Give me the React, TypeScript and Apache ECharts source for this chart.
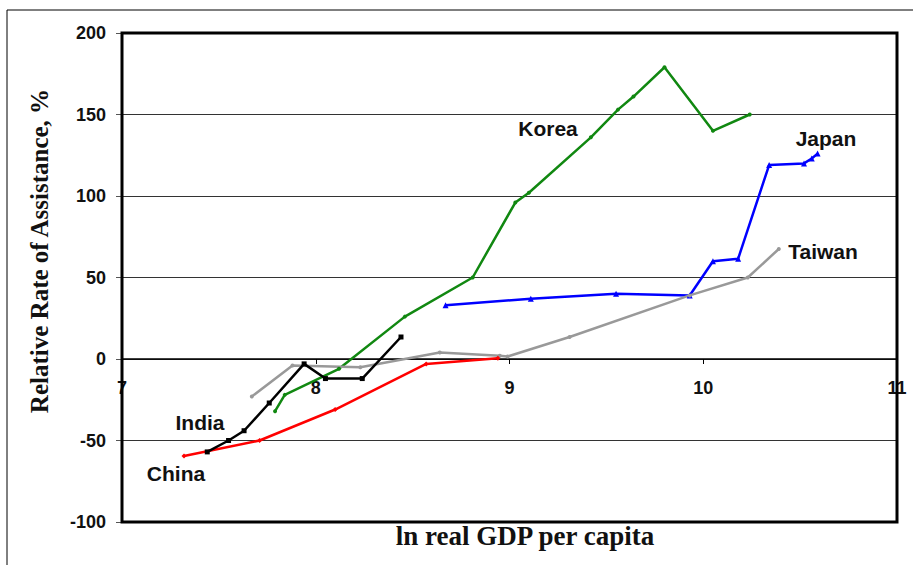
import React, { useEffect, useRef } from "react";
import * as echarts from "echarts";

const xTicks = [7, 8, 9, 10, 11];
const yTicks = [-100, -50, 0, 50, 100, 150, 200];

const koreaX = [7.79, 7.84, 8.12, 8.46, 8.81, 9.03, 9.1, 9.42, 9.56, 9.64, 9.8, 10.05, 10.24];
const koreaY = [-32, -22, -6, 26, 50, 96, 102, 136, 153, 161, 179, 140, 150];

const japanX = [8.67, 9.11, 9.55, 9.93, 10.05, 10.18, 10.34, 10.52, 10.56, 10.59];
const japanY = [33, 37, 40, 39, 60, 61.5, 119, 120, 123, 126];

const taiwanX = [7.67, 7.88, 8.23, 8.64, 8.95, 8.99, 9.31, 9.93, 10.23, 10.39];
const taiwanY = [-23, -4, -5, 4, 2, 1.5, 13.5, 39, 50, 67.5];

const chinaX = [7.32, 7.71, 8.1, 8.57, 8.94];
const chinaY = [-59.5, -50, -31, -3, 0.5];

const indiaX = [7.44, 7.55, 7.63, 7.76, 7.94, 8.05, 8.24, 8.44];
const indiaY = [-57, -50, -44, -27, -3, -12, -12, 13.5];

const seriesNames = ["Korea", "Japan", "Taiwan", "China", "India"];

const pairs = (xs: number[], ys: number[]) => xs.map((x, i) => [x, ys[i]]);

export default function App() {
  const ref = useRef<HTMLDivElement>(null);
  useEffect(() => {
    if (!ref.current) return;
    const chart = echarts.init(ref.current, null, { renderer: "svg" });
    const labelFont = {
      fontFamily: "Liberation Sans, Arial, sans-serif",
      fontWeight: "bold",
      fontSize: 21,
      fill: "#111",
    };
    const gridTop = 33;
    const gridBottom = 43;
    const plotH = 565 - gridTop - gridBottom;
    const yMin = yTicks[0];
    const yMax = yTicks[yTicks.length - 1];
    // move the x axis up so it sits on y = 0
    const zeroOffset = -(plotH * (0 - yMin)) / (yMax - yMin);
    const mk = (
      name: string,
      xs: number[],
      ys: number[],
      color: string,
      symbol: string,
      size: number
    ) => ({
      name,
      type: "line",
      data: pairs(xs, ys),
      symbol,
      symbolSize: size,
      showSymbol: true,
      lineStyle: { color, width: 2.5 },
      itemStyle: { color },
      z: 3,
    });
    chart.setOption({
      animation: false,
      backgroundColor: "#fff",
      grid: {
        left: 122,
        right: 16,
        top: gridTop,
        bottom: gridBottom,
        show: true,
        borderColor: "#000",
        borderWidth: 3,
        z: 4,
      },
      xAxis: {
        type: "value",
        min: xTicks[0],
        max: xTicks[xTicks.length - 1],
        interval: 1,
        offset: zeroOffset,
        axisLine: { onZero: false, lineStyle: { color: "#000", width: 1.5 } },
        axisTick: { show: true, length: 5, lineStyle: { color: "#000" } },
        axisLabel: {
          margin: 20,
          fontFamily: "Liberation Sans, Arial, sans-serif",
          fontWeight: "bold",
          fontSize: 18,
          color: "#111",
        },
        splitLine: { show: false },
      },
      yAxis: {
        type: "value",
        min: yMin,
        max: yMax,
        interval: 50,
        axisLine: { show: false },
        axisTick: { show: true, length: 6, lineStyle: { color: "#555" } },
        axisLabel: {
          margin: 16,
          fontFamily: "Liberation Sans, Arial, sans-serif",
          fontWeight: "bold",
          fontSize: 18,
          color: "#111",
        },
        splitLine: { show: true, lineStyle: { color: "#333", width: 1 } },
      },
      series: [
        mk(seriesNames[0], koreaX, koreaY, "#118811", "circle", 4),
        mk(seriesNames[1], japanX, japanY, "#0000ff", "triangle", 6),
        mk(seriesNames[2], taiwanX, taiwanY, "#999999", "circle", 4),
        mk(seriesNames[3], chinaX, chinaY, "#ff0000", "diamond", 5),
        mk(seriesNames[4], indiaX, indiaY, "#000000", "rect", 5),
      ],
      graphic: [
        {
          type: "rect",
          shape: { x: 7, y: 10, width: 1000, height: 1000 },
          style: { fill: "none", stroke: "#000", lineWidth: 1 },
          silent: true,
        },
        { type: "text", x: 548, y: 128, style: { ...labelFont, text: seriesNames[0], textAlign: "center", textVerticalAlign: "middle" } },
        { type: "text", x: 826, y: 138, style: { ...labelFont, text: seriesNames[1], textAlign: "center", textVerticalAlign: "middle" } },
        { type: "text", x: 823, y: 251, style: { ...labelFont, text: seriesNames[2], textAlign: "center", textVerticalAlign: "middle" } },
        { type: "text", x: 200, y: 422, style: { ...labelFont, text: seriesNames[4], textAlign: "center", textVerticalAlign: "middle" } },
        { type: "text", x: 176, y: 473, style: { ...labelFont, text: seriesNames[3], textAlign: "center", textVerticalAlign: "middle" } },
        {
          type: "text",
          x: 39,
          y: 251,
          rotation: Math.PI / 2,
          style: {
            text: "Relative Rate of Assistance, %",
            fontFamily: "Liberation Serif, Times New Roman, serif",
            fontWeight: "bold",
            fontSize: 25,
            fill: "#111",
            textAlign: "center",
            textVerticalAlign: "middle",
          },
        },
        {
          type: "text",
          x: 525,
          y: 536,
          style: {
            text: "ln real GDP per capita",
            fontFamily: "Liberation Serif, Times New Roman, serif",
            fontWeight: "bold",
            fontSize: 27,
            fill: "#111",
            textAlign: "center",
            textVerticalAlign: "middle",
          },
        },
      ],
    });
    return () => chart.dispose();
  }, []);
  return (
    <div
      ref={ref}
      style={{ position: "fixed", left: 0, top: 0, width: 913, height: 565 }}
    />
  );
}
